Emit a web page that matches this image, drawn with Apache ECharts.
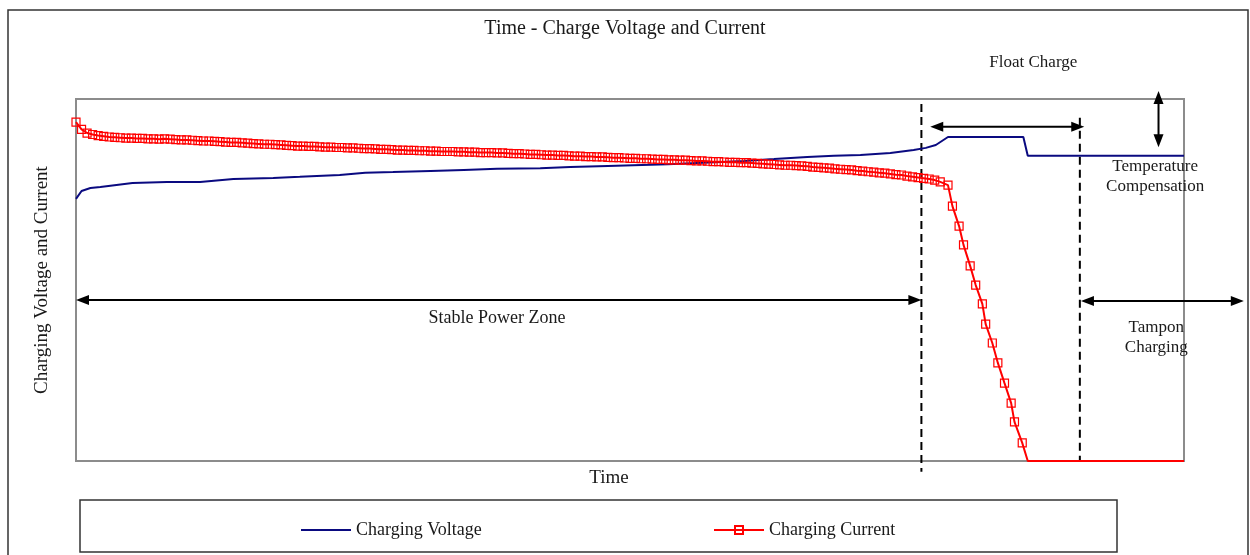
<!DOCTYPE html>
<html>
<head>
<meta charset="utf-8">
<title>Time - Charge Voltage and Current</title>
<script src="https://cdn.jsdelivr.net/npm/echarts@6.0.0/dist/echarts.min.js"></script>
<style>
    html, body { margin: 0; padding: 0; background: #fff; }
    #main { width: 1250px; height: 555px; }
</style>
</head>
<body>
<div id="main"></div>
<script>
// 时间和数值都是任意单位 0-100，从图上读出来的
var aVoltageTime = [0, 0.5, 1.3, 2.2, 5.1, 8.2, 11.2, 14.2, 17.8, 20.2, 23.8, 26.1, 28.6, 32.0, 35.0, 38.0,
    41.9, 44.6, 48.0, 53.4, 60.3, 63.0, 66.0, 68.4, 70.8, 73.5, 75.6, 76.7, 77.6, 78.7, 85.5, 85.9, 100];
var aVoltage = [72.4, 74.6, 75.4, 75.7, 76.8, 77.1, 77.1, 77.9, 78.2, 78.5, 79.0, 79.6, 79.8, 80.1, 80.4, 80.7,
    80.9, 81.2, 81.5, 82.0, 82.9, 83.4, 84.0, 84.3, 84.5, 85.1, 85.9, 86.5, 87.3, 89.5, 89.5, 84.3, 84.3];

var aCurrentTime = [
    0, 0.5, 1, 1.5, 2, 2.5, 3, 3.5, 4, 4.5, 5, 5.5, 6, 6.5, 7, 7.5, 8, 8.5, 9, 9.5,
    10, 10.5, 11, 11.5, 12, 12.5, 13, 13.5, 14, 14.5, 15, 15.5, 16, 16.5, 17, 17.5, 18, 18.5, 19, 19.5,
    20, 20.5, 21, 21.5, 22, 22.5, 23, 23.5, 24, 24.5, 25, 25.5, 26, 26.5, 27, 27.5, 28, 28.5, 29, 29.5,
    30, 30.5, 31, 31.5, 32, 32.5, 33, 33.5, 34, 34.5, 35, 35.5, 36, 36.5, 37, 37.5, 38, 38.5, 39, 39.5,
    40, 40.5, 41, 41.5, 42, 42.5, 43, 43.5, 44, 44.5, 45, 45.5, 46, 46.5, 47, 47.5, 48, 48.5, 49, 49.5,
    50, 50.5, 51, 51.5, 52, 52.5, 53, 53.5, 54, 54.5, 55, 55.5, 56, 56.5, 57, 57.5, 58, 58.5, 59, 59.5,
    60, 60.5, 61, 61.5, 62, 62.5, 63, 63.5, 64, 64.5, 65, 65.5, 66, 66.5, 67, 67.5, 68, 68.5, 69, 69.5,
    70, 70.5, 71, 71.5, 72, 72.5, 73, 73.5, 74, 74.5, 75, 75.5, 76, 76.5, 77, 77.5, 78, 78.7,
    79.1, 79.7, 80.1, 80.7, 81.2, 81.8, 82.1, 82.7, 83.2, 83.8, 84.4, 84.7, 85.4, 85.9, 100];
var aCurrent = [
    93.6, 91.6, 90.6, 90.2, 89.9, 89.7, 89.5, 89.4, 89.3, 89.2, 89.2, 89.1, 89.1, 89.0, 89.0, 88.9, 89.0, 88.9, 88.8, 88.7,
    88.7, 88.6, 88.5, 88.4, 88.4, 88.3, 88.2, 88.1, 88.0, 88.0, 87.9, 87.8, 87.7, 87.6, 87.5, 87.5, 87.4, 87.3, 87.2, 87.1,
    87.0, 87.0, 86.9, 86.9, 86.8, 86.7, 86.7, 86.6, 86.6, 86.5, 86.5, 86.4, 86.3, 86.3, 86.2, 86.1, 86.1, 86.0, 85.9, 85.9,
    85.8, 85.8, 85.7, 85.7, 85.6, 85.6, 85.5, 85.5, 85.5, 85.4, 85.4, 85.3, 85.3, 85.2, 85.2, 85.2, 85.1, 85.1, 85.0, 84.9,
    84.9, 84.8, 84.7, 84.7, 84.6, 84.5, 84.5, 84.4, 84.4, 84.3, 84.2, 84.2, 84.1, 84.1, 84.0, 84.0, 83.9, 83.8, 83.8, 83.7,
    83.6, 83.6, 83.5, 83.5, 83.4, 83.3, 83.3, 83.2, 83.2, 83.1, 83.1, 83.0, 82.9, 82.9, 82.8, 82.7, 82.7, 82.6, 82.5, 82.5,
    82.4, 82.4, 82.3, 82.2, 82.1, 82.0, 81.9, 81.8, 81.7, 81.7, 81.6, 81.5, 81.4, 81.2, 81.1, 81.0, 80.9, 80.7, 80.6, 80.5,
    80.4, 80.2, 80.1, 79.9, 79.8, 79.6, 79.5, 79.3, 79.1, 79.0, 78.7, 78.5, 78.3, 78.1, 77.9, 77.6, 77.1, 76.2,
    70.4, 64.9, 59.7, 53.9, 48.6, 43.4, 37.8, 32.6, 27.1, 21.5, 16.0, 10.8, 5.0, 0, 0];

// 注释用的位置（同样是数据坐标）
var fZoneEnd = 76.3;      // 第一条虚线
var fFloatEnd = 90.6;     // 第二条虚线

var sFont = '"Liberation Serif", "DejaVu Serif", serif';
var sInk = '#1a1a1a';

function GetSeriesData(aTime, aValue) {
    var aData = [];
    for (var i = 0; i < aTime.length; i++) {
        aData.push([aTime[i], aValue[i]]);
    }
    return aData
}

function GetOption() {
    var aCurrentData = GetSeriesData(aCurrentTime, aCurrent);
    // 底部平线上没有方块
    var n = aCurrentData.length;
    aCurrentData[n - 2] = {value: aCurrentData[n - 2], symbol: 'none'};
    aCurrentData[n - 1] = {value: aCurrentData[n - 1], symbol: 'none'};

    var jOption = {
        animation: false,
        title: {
            text: 'Time - Charge Voltage and Current',
            left: 'center',
            top: 14,
            textStyle: {fontFamily: sFont, fontSize: 20, fontWeight: 'normal', color: sInk}
        },
        legend: [
            {
                // 电压图例只有一条线
                data: [{name: 'Charging Voltage', icon: 'rect'}],
                left: 296, top: 516,
                itemWidth: 50, itemHeight: 2,
                textStyle: {fontFamily: sFont, fontSize: 18, color: sInk}
            },
            {
                data: ['Charging Current'],
                left: 708, top: 516,
                itemWidth: 50, itemHeight: 10,
                textStyle: {fontFamily: sFont, fontSize: 18, color: sInk}
            }
        ],
        grid: {
            left: 76, top: 99, right: 66, bottom: 94,
            show: true,
            borderColor: '#8c8c8c',
            borderWidth: 2
        },
        xAxis: {
            type: 'value',
            min: 0, max: 100,
            name: 'Time',
            nameLocation: 'middle',
            nameGap: 8,
            nameTextStyle: {fontFamily: sFont, fontSize: 19, color: sInk, padding: [0, 42, 0, 0]},
            axisLine: {show: false}, axisTick: {show: false}, axisLabel: {show: false}, splitLine: {show: false}
        },
        yAxis: {
            type: 'value',
            min: 0, max: 100,
            name: 'Charging Voltage and Current',
            nameLocation: 'middle',
            nameGap: 24,
            nameTextStyle: {fontFamily: sFont, fontSize: 19, color: sInk},
            axisLine: {show: false}, axisTick: {show: false}, axisLabel: {show: false}, splitLine: {show: false}
        },
        series: [
            {
                name: 'Charging Voltage',
                type: 'line',
                data: GetSeriesData(aVoltageTime, aVoltage),
                symbol: 'none',
                lineStyle: {color: '#0a0a80', width: 2},
                itemStyle: {color: '#0a0a80'}
            },
            {
                name: 'Charging Current',
                type: 'line',
                data: aCurrentData,
                symbol: 'rect',
                symbolSize: 8,
                showAllSymbol: true,
                lineStyle: {color: '#ff0000', width: 2},
                itemStyle: {color: 'rgba(255,255,255,0)', borderColor: '#ff0000', borderWidth: 1.2}
            }
        ]
    };
    return jOption
}

// 箭头：一条线加两头的三角
function Arrow(p1, p2, bHead1, bHead2) {
    var dx = p2[0] - p1[0], dy = p2[1] - p1[1];
    var len = Math.sqrt(dx * dx + dy * dy);
    var ux = dx / len, uy = dy / len;
    var iHeadLen = 13, iHeadHalf = 5;
    var aEls = [];
    var a = bHead1 ? iHeadLen - 2 : 0, b = bHead2 ? iHeadLen - 2 : 0;
    aEls.push({
        type: 'line',
        shape: {x1: p1[0] + ux * a, y1: p1[1] + uy * a, x2: p2[0] - ux * b, y2: p2[1] - uy * b},
        style: {stroke: '#000', lineWidth: 2}
    });
    function Head(tip, vx, vy) {
        var bx = tip[0] - vx * iHeadLen, by = tip[1] - vy * iHeadLen;
        return {
            type: 'polygon',
            shape: {points: [tip, [bx - vy * iHeadHalf, by + vx * iHeadHalf], [bx + vy * iHeadHalf, by - vx * iHeadHalf]]},
            style: {fill: '#000'}
        }
    }
    if (bHead1) aEls.push(Head(p1, -ux, -uy));
    if (bHead2) aEls.push(Head(p2, ux, uy));
    return aEls
}

function Label(p, sText, iSize) {
    return {
        type: 'text', x: p[0], y: p[1],
        style: {text: sText, fontFamily: sFont, fontSize: iSize, fill: sInk, align: 'center', verticalAlign: 'middle', lineHeight: 20}
    }
}

function GetGraphic(oChart) {
    function P(t, v) {
        return oChart.convertToPixel({gridIndex: 0}, [t, v]);
    }
    var aEls = [];
    // 外框和图例框
    aEls.push({type: 'rect', shape: {x: 8, y: 10, width: 1240, height: 560}, style: {fill: 'none', stroke: '#333', lineWidth: 1.5}});
    aEls.push({type: 'rect', shape: {x: 80, y: 500, width: 1037, height: 52}, style: {fill: 'none', stroke: '#333', lineWidth: 1.5}});

    // 两条虚线
    var aDash = [[fZoneEnd, 98.6, -3.0], [fFloatEnd, 94.8, -0.3]];
    for (var i = 0; i < aDash.length; i++) {
        var pa = P(aDash[i][0], aDash[i][1]), pb = P(aDash[i][0], aDash[i][2]);
        aEls.push({
            type: 'line',
            shape: {x1: pa[0], y1: pa[1], x2: pb[0], y2: pb[1]},
            style: {stroke: '#000', lineWidth: 2, lineDash: [8, 5]}
        });
    }

    aEls = aEls.concat(Arrow(P(0, 44.5), P(fZoneEnd, 44.5), true, true));
    aEls = aEls.concat(Arrow(P(77.1, 92.3), P(91.0, 92.3), true, true));
    aEls = aEls.concat(Arrow(P(90.7, 44.2), P(105.4, 44.2), true, true));
    aEls = aEls.concat(Arrow(P(97.7, 102.2), P(97.7, 86.7), true, true));

    aEls.push(Label(P(38.0, 39.5), 'Stable Power Zone', 18));
    aEls.push(Label(P(86.4, 110.2), 'Float Charge', 17));
    aEls.push(Label(P(97.4, 78.7), 'Temperature\nCompensation', 17));
    aEls.push(Label(P(97.5, 34.0), 'Tampon\nCharging', 17));
    return aEls
}

function drawChart() {
    var oChart = echarts.init(document.getElementById('main'));
    oChart.setOption(GetOption());
    oChart.setOption({graphic: GetGraphic(oChart)});
    return oChart
}

drawChart();
</script>
</body>
</html>
